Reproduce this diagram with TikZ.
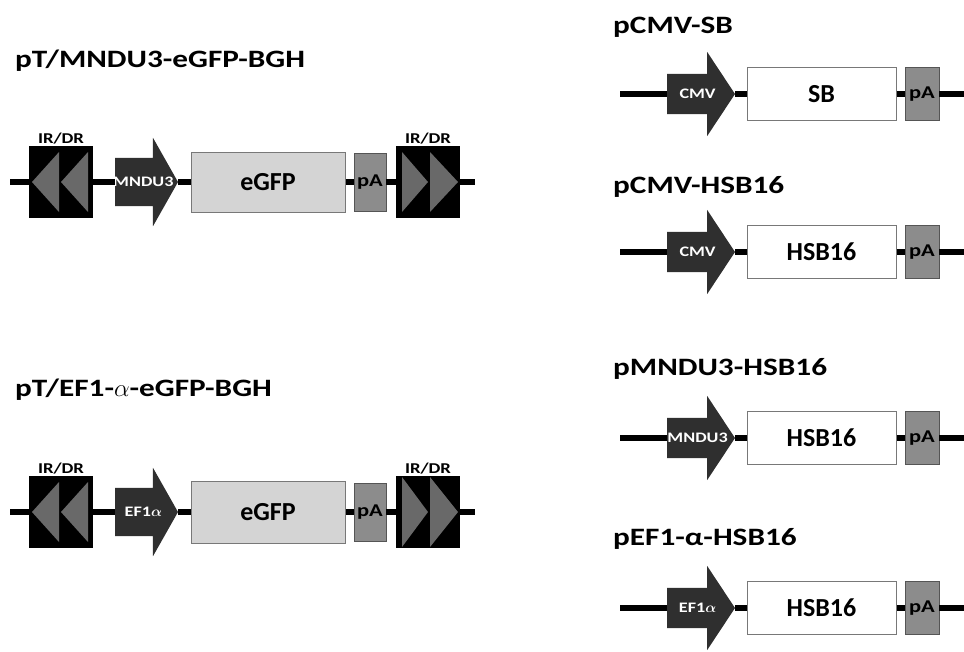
\documentclass[tikz,border=0pt]{standalone}
\usepackage{fontspec}
\setmainfont{Carlito}
\newfontfamily\widesans[FakeStretch=1.25]{Carlito}
\usetikzlibrary{shapes.arrows, positioning, calc}
\definecolor{PromGray}{RGB}{47,47,47}
\definecolor{TriGray}{RGB}{105,105,105}
\definecolor{GfpGray}{RGB}{212,212,212}
\definecolor{EdgeGray}{RGB}{120,120,120}
\definecolor{PolyGray}{RGB}{140,140,140}
\definecolor{PolyEdge}{RGB}{85,85,85}
\tikzset{
  % Linea del plasmide
  backbone/.style={line width=5.5pt,black},
  % Titoli dei costrutti
  construct/.style={anchor=base west,inner sep=0,font=\widesans\bfseries\fontsize{25}{30}\selectfont},
  % Ripetizioni invertite/dirette
  irdr/.style={fill=black,minimum width=64,minimum height=72,inner sep=0,outer sep=0,
    label={[font=\widesans\bfseries\fontsize{15}{17}\selectfont,inner sep=1pt,label distance=1pt]above:IR/DR}},
  % Promotori
  promoter/.style={single arrow,fill=PromGray,anchor=tip,inner xsep=0,outer sep=0,
    single arrow head indent=0},
  prom left/.style={promoter,inner ysep=24,single arrow head extend=20,single arrow tip angle=121,minimum height=63},
  prom right/.style={promoter,inner ysep=20,single arrow head extend=22,single arrow tip angle=113,minimum height=68},
  promtext/.style={text=white,inner sep=0,font=\widesans\bfseries\boldmath\fontsize{14.5}{16}\selectfont},
  % Geni e poly-A
  gene/.style={draw=EdgeGray,line width=1pt,fill=white,inner sep=0,font=\bfseries\fontsize{26}{30}\selectfont},
  gene left/.style={gene,fill=GfpGray,minimum width=154,minimum height=60},
  gene right/.style={gene,minimum width=149,minimum height=53},
  polya/.style={draw=PolyEdge,line width=0.8pt,fill=PolyGray,inner sep=0,minimum width=32,minimum height=58,
    font=\widesans\bfseries\fontsize{18}{20}\selectfont},
  polya right/.style={polya,minimum width=34,minimum height=53}
}
\newcommand{\irleft}[1]{%
  \fill[TriGray] ([xshift=3pt]#1.west) -- ([xshift=30pt,yshift=30pt]#1.west) -- ([xshift=30pt,yshift=-30pt]#1.west) -- cycle;
  \fill[TriGray] ([xshift=32pt]#1.west) -- ([xshift=59pt,yshift=30pt]#1.west) -- ([xshift=59pt,yshift=-30pt]#1.west) -- cycle;}
\newcommand{\irright}[2]{%
  \fill[TriGray] ([xshift=6pt,yshift=#2]#1.west) -- ([xshift=32pt]#1.west) -- ([xshift=6pt,yshift=-#2]#1.west) -- cycle;
  \fill[TriGray] ([xshift=34pt,yshift=#2]#1.west) -- ([xshift=62pt]#1.west) -- ([xshift=34pt,yshift=-#2]#1.west) -- cycle;}

\begin{document}
\begin{tikzpicture}[x=1pt,y=-1pt]
  \useasboundingbox (0,0) rectangle (964,651);

  \node[construct] (ta) at (15,67) {pT/MNDU3-eGFP-BGH};
  \coordinate (a0) at (10,182);
  \node[irdr] (a1) at (61,182) {};
  \node[prom left] (a2) at (178,182) {};
  \node[promtext] at ($(a2.tail)!0.45!(a2.tip)$) {MNDU3};
  \node[gene left] (a3) at (268,182) {eGFP};
  \node[polya] (a4) at (370,182) {pA};
  \node[irdr] (a5) at (428,182) {};
  \coordinate (a6) at (475,182);
  \irleft{a1}
  \irright{a5}{30pt}
  \draw[backbone] (a0) -- (a1) (a1) -- (a2) (a2) -- (a3) (a3) -- (a4) (a4) -- (a5) (a5) -- (a6);

  \node[construct] (tb) at (15,396) {pT/EF1-$\alpha$-eGFP-BGH};
  \coordinate (b0) at (10,512);
  \node[irdr] (b1) at (61,512) {};
  \node[prom left] (b2) at (178,512) {};
  \node[promtext] at ($(b2.tail)!0.45!(b2.tip)$) {EF1$\alpha$};
  \node[gene left,minimum height=62] (b3) at (268,512) {eGFP};
  \node[polya] (b4) at (370,512) {pA};
  \node[irdr] (b5) at (428,512) {};
  \coordinate (b6) at (475,512);
  \irleft{b1}
  \irright{b5}{35pt}
  \draw[backbone] (b0) -- (b1) (b1) -- (b2) (b2) -- (b3) (b3) -- (b4) (b4) -- (b5) (b5) -- (b6);

  \node[construct] (tc) at (613,33) {pCMV-SB};
  \coordinate (c0) at (620,94);
  \node[prom right] (c1) at (735,94) {};
  \node[promtext] at ($(c1.tail)!0.45!(c1.tip)$) {CMV};
  \node[gene right] (c2) at (821.5,94) {SB};
  \node[polya right] (c3) at (922,94) {pA};
  \coordinate (c4) at (964,94);
  \draw[backbone] (c0) -- (c1) (c1) -- (c2) (c2) -- (c3) (c3) -- (c4);

  \node[construct] (td) at (613,193) {pCMV-HSB16};
  \coordinate (d0) at (620,252);
  \node[prom right] (d1) at (735,252) {};
  \node[promtext] at ($(d1.tail)!0.45!(d1.tip)$) {CMV};
  \node[gene right] (d2) at (821.5,252) {HSB16};
  \node[polya right] (d3) at (922,252) {pA};
  \coordinate (d4) at (964,252);
  \draw[backbone] (d0) -- (d1) (d1) -- (d2) (d2) -- (d3) (d3) -- (d4);

  \node[construct] (te) at (613,375) {pMNDU3-HSB16};
  \coordinate (e0) at (620,438);
  \node[prom right] (e1) at (735,438) {};
  \node[promtext] at ($(e1.tail)!0.45!(e1.tip)$) {MNDU3};
  \node[gene right] (e2) at (821.5,438) {HSB16};
  \node[polya right] (e3) at (922,438) {pA};
  \coordinate (e4) at (964,438);
  \draw[backbone] (e0) -- (e1) (e1) -- (e2) (e2) -- (e3) (e3) -- (e4);

  \node[construct] (tf) at (613,545) {pEF1-α-HSB16};
  \coordinate (f0) at (620,608);
  \node[prom right] (f1) at (735,608) {};
  \node[promtext] at ($(f1.tail)!0.45!(f1.tip)$) {EF1$\alpha$};
  \node[gene right] (f2) at (821.5,608) {HSB16};
  \node[polya right] (f3) at (922,608) {pA};
  \coordinate (f4) at (964,608);
  \draw[backbone] (f0) -- (f1) (f1) -- (f2) (f2) -- (f3) (f3) -- (f4);
\end{tikzpicture}
\end{document}
